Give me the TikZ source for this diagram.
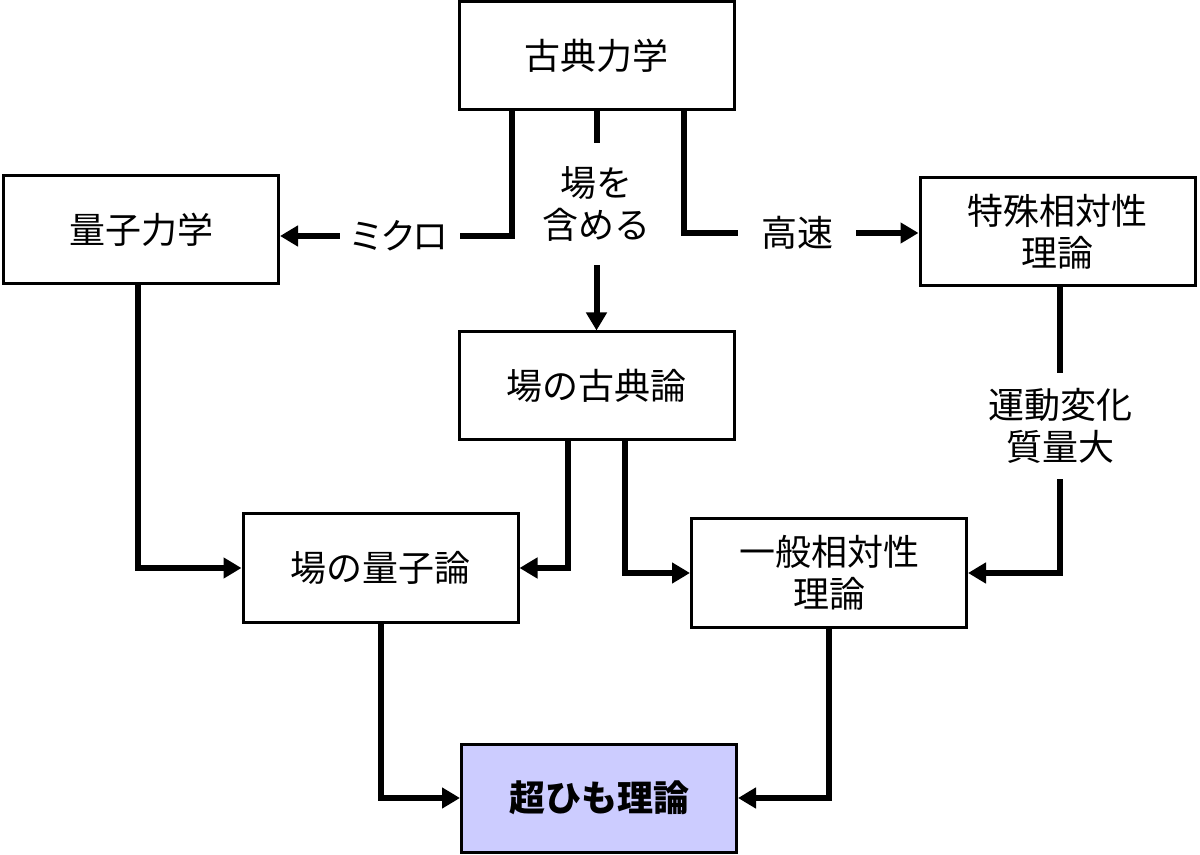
\documentclass[tikz,border=0pt]{standalone}
\usepackage{fontspec}
\setmainfont{Noto Sans CJK JP}
\usepackage{tikz}
\usetikzlibrary{arrows.meta,calc}
\usepackage{xcolor}
\definecolor{lavender}{RGB}{204,204,255}

\begin{document}
\begin{tikzpicture}[x=0.5pt,y=-0.5pt,
	box/.style={draw,line width=1.5pt,minimum width=137.5pt,minimum height=54pt,align=center,font=\fontsize{18}{21}\selectfont},
	gap/.style={inner sep=0pt,align=center,font=\fontsize{18}{21}\selectfont},
	arc/.style={line width=3pt},
	>={Triangle[length=9pt,width=10pt]}]
	\useasboundingbox (0,0) rectangle (1200,855);

	%THEORIES
	\node[box] (kt)    at (596.5,55.5) {古典力学};
	\node[box] (ryo)   at (141,230)    {量子力学};
	\node[box] (toku)  at (1057.5,231.5) {特殊相対性\\理論};
	\node[box] (bk)    at (596.5,386)  {場の古典論};
	\node[box] (bq)    at (380.5,568)  {場の量子論};
	\node[box] (ippan) at (829,573)    {一般相対性\\理論};
	\node[box,fill=lavender,font=\fontsize{18}{21}\selectfont\bfseries] (cho) at (599,798) {超ひも理論};

	%LABELS
	\node[gap,minimum width=60pt]  (mikro)  at (400,236)  {\addfontfeature{RawFeature=+palt}ミクロ};
	\node[gap,minimum height=61pt] (fukume) at (596.5,204) {場を\\含める};
	\node[gap,minimum width=59pt]  (kosoku) at (797,233)  {高速};
	\node[gap,minimum height=53pt] (undo)   at (1060,426) {運動変化\\質量大};

	%UPPER ARCS
	\draw[arc] ($(kt.south)+(-84.5,0)$) |- (mikro.east);
	\draw[arc,->] (mikro.west) -- (mikro.west -| ryo.east);
	%
	\draw[arc] (kt) -- (fukume);
	\draw[arc,->] (fukume) -- (bk);
	%
	\draw[arc] ($(kt.south)+(87.5,0)$) |- (kosoku.west);
	\draw[arc,->] (kosoku.east) -- (kosoku.east -| toku.west);
	%
	\draw[arc] (undo.north |- toku.south) -- (undo.north);
	\draw[arc,->] (undo.south) |- (ippan.east);

	%LOWER ARCS
	\draw[arc,->] ($(ryo.south)+(-3,0)$) |- (bq.west);
	\draw[arc,->] ($(bk.south)+(-28.5,0)$) |- (bq.east);
	\draw[arc,->] ($(bk.south)+(28.5,0)$) |- (ippan.west);
	\draw[arc,->] (bq.south) |- (cho.west);
	\draw[arc,->] (ippan.south) |- (cho.east);
\end{tikzpicture}
\end{document}
